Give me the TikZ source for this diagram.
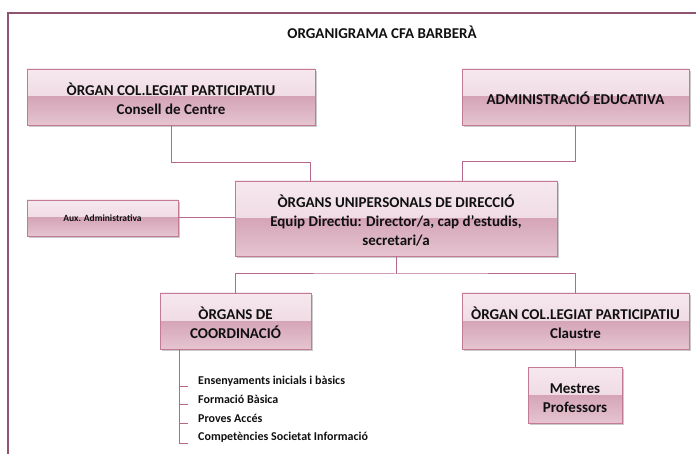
\documentclass[tikz,border=0pt]{standalone}
\usepackage{fontspec}
\setmainfont{Carlito}
\usetikzlibrary{shadows}
\definecolor{gtopA}{HTML}{F6E8EE}
\definecolor{gtopB}{HTML}{EACFDA}
\definecolor{gbotA}{HTML}{D5A5B7}
\definecolor{gbotB}{HTML}{E5C4D0}
\definecolor{boxline}{HTML}{C27A96}
\definecolor{conn}{HTML}{B5688A}
\definecolor{framec}{HTML}{8E5470}
\definecolor{txt}{HTML}{101010}
\newcommand{\toppad}{\rule{0pt}{16.5pt}}
\tikzset{
  orgbox/.style={draw=boxline, line width=0.9pt, align=center, inner sep=2pt,
    text=txt, font=\fontsize{15}{18.7}\selectfont\bfseries,
    drop shadow={shadow xshift=1.6pt, shadow yshift=-1.6pt, opacity=0.35, fill=black!60},
    path picture={
      \fill[top color=gtopA, bottom color=gtopB] (path picture bounding box.north west) rectangle (path picture bounding box.east);
      \fill[top color=gbotA, bottom color=gbotB] (path picture bounding box.west) rectangle (path picture bounding box.south east);
    }},
  link/.style={draw=conn, line width=1pt},
  item/.style={anchor=west, inner sep=0pt, text=txt, font=\fontsize{12}{14}\selectfont\bfseries},
  ttl/.style={text=txt, inner sep=0pt, font=\fontsize{15}{18}\selectfont\bfseries},
  frameline/.style={draw=framec, line width=1.6pt}
}
\begin{document}
\begin{tikzpicture}[x=1pt,y=1pt]
\useasboundingbox (0,0) rectangle (696,-454);
\draw[frameline] (8,-454) -- (8,-13) -- (696,-13);
\node[ttl] (title) at (382,-32) {ORGANIGRAMA CFA BARBERÀ};

\node[orgbox, minimum width=288pt, minimum height=56pt] (consell) at (171,-97) {\toppad ÒRGAN COL.LEGIAT PARTICIPATIU\\Consell de Centre};
\node[orgbox, minimum width=227pt, minimum height=56pt] (admin) at (575.5,-97) {\rule{0pt}{15pt}ADMINISTRACIÓ EDUCATIVA};
\node[orgbox, minimum width=322pt, minimum height=75pt] (dir) at (396,-218.5) {\toppad ÒRGANS UNIPERSONALS DE DIRECCIÓ\\Equip Directiu: Director/a, cap d'estudis,\\secretari/a};
\node[orgbox, minimum width=151pt, minimum height=36pt, font=\fontsize{9.5}{11}\selectfont\bfseries] (aux) at (102.5,-218) {Aux. Administrativa};
\node[orgbox, minimum width=151pt, minimum height=56pt] (coord) at (235.5,-321) {\toppad ÒRGANS DE\\COORDINACIÓ};
\node[orgbox, minimum width=227pt, minimum height=56pt] (claustre) at (575.5,-321) {\toppad ÒRGAN COL.LEGIAT PARTICIPATIU\\Claustre};
\node[orgbox, minimum width=94pt, minimum height=56pt] (mestres) at (575,-395) {\toppad Mestres\\Professors};

\coordinate (j1) at (310,-163);
\coordinate (j2) at (462,-162);
\coordinate (j3) at (396,-274);
\draw[link] (consell.south) |- (j1) -- (j1 |- dir.north);
\draw[link] (admin.south) |- (j2) -- (j2 |- dir.north);
\draw[link] (aux.east) -- (aux.east -| dir.west);
\draw[link] (dir.south) -- (j3);
\draw[link] (coord.north) |- (j3) -| (claustre.north);
\draw[link] (claustre.south) -- (claustre.south |- mestres.north);

\coordinate (sp) at (179,-349);
\coordinate (t1) at (188,-386);
\coordinate (t2) at (188,-404);
\coordinate (t3) at (188,-423);
\coordinate (t4) at (188,-443);
\draw[link] (sp) -- (sp |- t4);
\foreach \t in {t1,t2,t3,t4} \draw[link] (sp |- \t) -- (\t);

\node[item] (i1) at (198,-381) {Ensenyaments inicials i bàsics};
\node[item] (i2) at (198,-399) {Formació Bàsica};
\node[item] (i3) at (198,-418) {Proves Accés};
\node[item] (i4) at (198,-437) {Competències Societat Informació};
\end{tikzpicture}
\end{document}
